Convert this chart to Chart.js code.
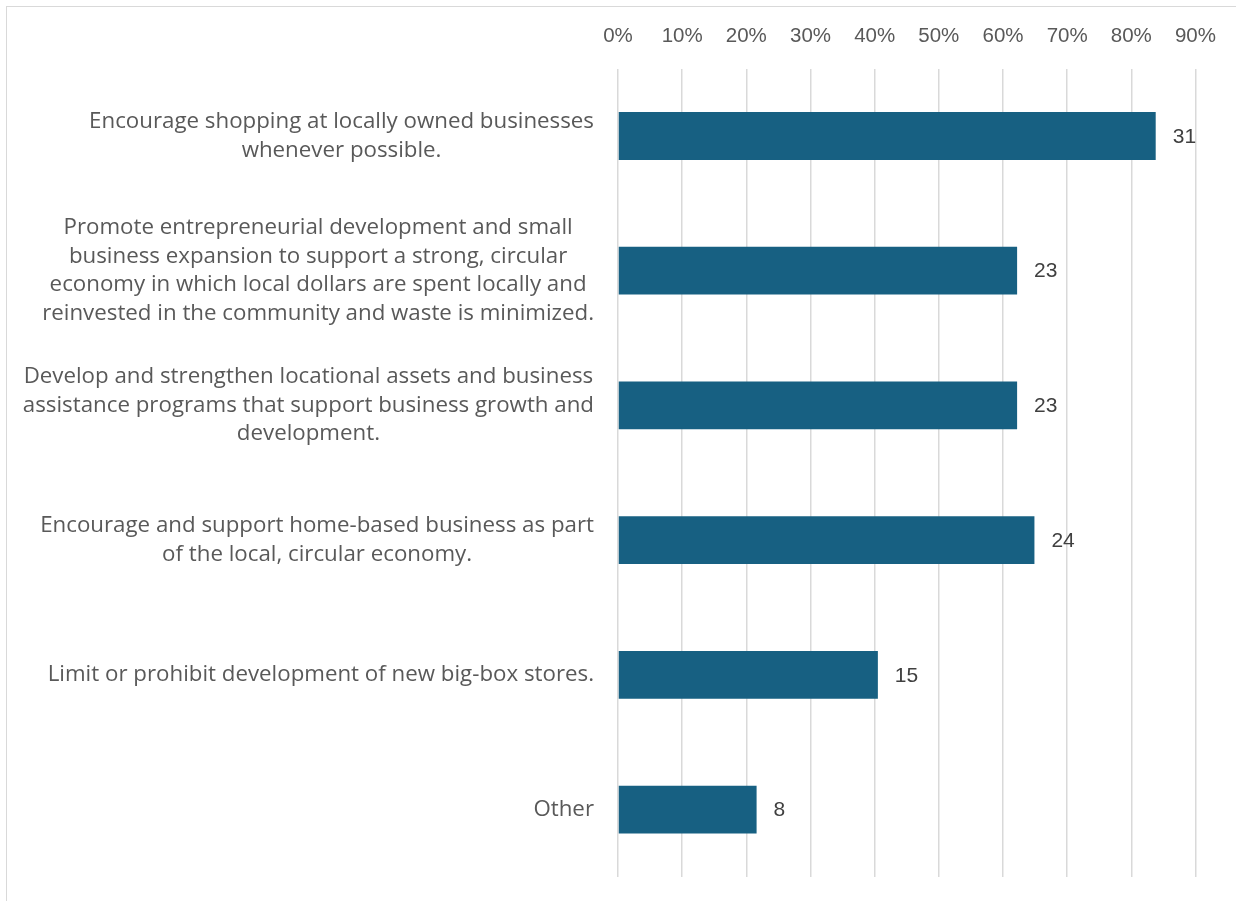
<!DOCTYPE html>
<html>
<head>
<meta charset="utf-8">
<script src="https://cdn.jsdelivr.net/npm/chart.js@4/dist/chart.umd.min.js"></script>
<style>
  html, body { margin: 0; padding: 0; background: #fff; overflow: hidden; }
  #frame { position: absolute; left: 6px; top: 6px; width: 1400px; height: 1100px; border: 1px solid #d9d9d9; }
  #chart { position: absolute; left: 0; top: 0; }
</style>
</head>
<body>
<div id="frame"></div>
<canvas id="chart" width="1236" height="901"></canvas>
<script>
// categories, one array of lines per bar
const categories = [
    ['Encourage shopping at locally owned businesses', 'whenever possible.'],
    ['Promote entrepreneurial development and small', 'business expansion to support a strong, circular', 'economy in which local dollars are spent locally and', 'reinvested in the community and waste is minimized.'],
    ['Develop and strengthen locational assets and business', 'assistance programs that support business growth and', 'development.'],
    ['Encourage and support home-based business as part', 'of the local, circular economy.'],
    ['Limit or prohibit development of new big-box stores.'],
    ['Other']
];
const percents = [83.8, 62.2, 62.2, 64.9, 40.5, 21.6]; // bar lengths, %
const counts = [31, 23, 23, 24, 15, 8]; // numbers printed at bar ends
const xTicks = [0, 10, 20, 30, 40, 50, 60, 70, 80, 90];

const catFont = '22.3px "Open Sans"';
const valFont = '21px "Liberation Sans"';

// category text, centred lines, block right-aligned next to the axis
const categoryLabels = {
    id: 'categoryLabels',
    afterDraw(chart) {
        const ctx = chart.ctx;
        const yScale = chart.scales.y;
        const right = chart.chartArea.left - 24;
        const lineH = 28.7;
        ctx.save();
        ctx.font = catFont;
        ctx.fillStyle = '#595959';
        ctx.textAlign = 'center';
        ctx.textBaseline = 'middle';
        categories.forEach((lines, i) => {
            const y = yScale.getPixelForValue(i);
            let maxW = 0;
            for (const l of lines) maxW = Math.max(maxW, ctx.measureText(l).width);
            const cx = right - maxW / 2;
            const y0 = y - (lines.length - 1) * lineH / 2;
            lines.forEach((l, j) => ctx.fillText(l, cx, y0 + j * lineH));
        });
        ctx.restore();
    }
};

// counts after the bar ends
const valueLabels = {
    id: 'valueLabels',
    afterDatasetsDraw(chart) {
        const ctx = chart.ctx;
        const meta = chart.getDatasetMeta(0);
        ctx.save();
        ctx.font = valFont;
        ctx.fillStyle = '#404040';
        ctx.textAlign = 'left';
        ctx.textBaseline = 'middle';
        meta.data.forEach((bar, i) => {
            ctx.fillText(String(counts[i]), bar.x + 17, bar.y + 1);
        });
        ctx.restore();
    }
};

new Chart(document.getElementById('chart'), {
    type: 'bar',
    data: {
        labels: categories.map(c => c.join(' ')),
        datasets: [{
            data: percents,
            backgroundColor: '#176082',
            borderWidth: 0,
            barPercentage: 0.355,
            categoryPercentage: 1
        }]
    },
    options: {
        indexAxis: 'y',
        responsive: false,
        animation: false,
        devicePixelRatio: 1,
        layout: { padding: { left: 618, right: 40, top: 4, bottom: 24 } },
        plugins: {
            legend: { display: false },
            tooltip: { enabled: false }
        },
        scales: {
            x: {
                position: 'top',
                min: 0,
                max: 90,
                afterBuildTicks: scale => { scale.ticks = xTicks.map(v => ({ value: v })); },
                ticks: {
                    callback: v => v + '%',
                    font: { family: 'Liberation Sans', size: 20.5 },
                    color: '#595959',
                    padding: 20,
                    maxRotation: 0,
                    autoSkip: false
                },
                grid: { color: '#d9d9d9', lineWidth: 1.5, drawTicks: false },
                border: { display: false }
            },
            y: { display: false }
        }
    },
    plugins: [categoryLabels, valueLabels]
});
</script>
</body>
</html>
